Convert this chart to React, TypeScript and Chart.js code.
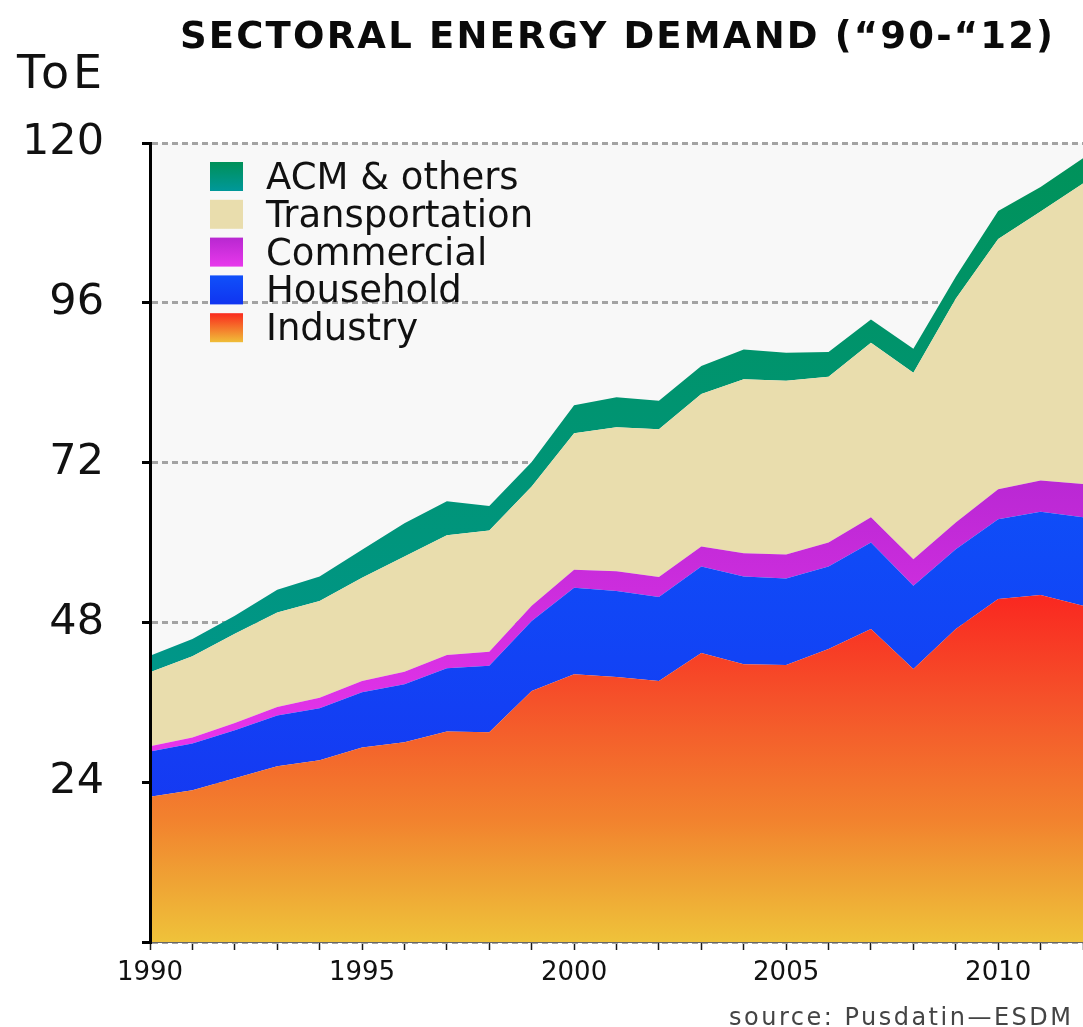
import React, { useEffect, useRef } from 'react';
import { Chart, registerables } from 'chart.js';

Chart.register(...registerables);

const years = ['1990', '1991', '1992', '1993', '1994', '1995', '1996', '1997', '1998', '1999', '2000', '2001', '2002', '2003', '2004', '2005', '2006', '2007', '2008', '2009', '2010', '2011', '2012'];
const industry = [21.8, 22.8, 24.6, 26.4, 27.3, 29.2, 30.0, 31.6, 31.5, 37.7, 40.2, 39.8, 39.2, 43.4, 41.7, 41.6, 44.0, 47.0, 41.0, 47.0, 51.5, 52.1, 50.5];
const household = [6.8, 7.0, 7.2, 7.6, 7.8, 8.3, 8.7, 9.5, 10.0, 10.5, 13.0, 12.9, 12.6, 13.0, 13.2, 13.0, 12.4, 13.0, 12.5, 12.0, 12.0, 12.5, 13.3];
const commercial = [0.8, 0.9, 1.1, 1.3, 1.6, 1.7, 1.9, 2.0, 2.1, 2.3, 2.7, 3.0, 3.0, 3.0, 3.5, 3.6, 3.6, 3.8, 4.0, 4.0, 4.5, 4.7, 5.0];
const transportation = [11.1, 12.2, 13.4, 14.2, 14.5, 15.5, 17.3, 18.0, 18.2, 17.9, 20.5, 21.6, 22.2, 22.9, 26.1, 26.1, 24.9, 26.2, 28.0, 33.6, 37.6, 40.4, 45.1];
const acmOthers = [2.5, 2.6, 2.7, 3.4, 3.7, 4.2, 5.0, 5.1, 3.7, 3.7, 4.2, 4.5, 4.3, 4.2, 4.5, 4.2, 3.7, 3.5, 3.6, 3.3, 4.2, 3.7, 3.8];

const seriesNames = ['Industry', 'Household', 'Commercial', 'Transportation', 'ACM & others'];
const yMax = 120;
const yStep = 24;
const titleText = 'SECTORAL ENERGY DEMAND (\u201C90-\u201C12)';
const unitText = 'ToE';
const sourceText = 'source: Pusdatin\u2014ESDM';

const FONT = '"DejaVu Sans", sans-serif';

type Stop = [number, string];

function valueGradient(chart: any, v0: number, v1: number, stops: Stop[], fallback: string) {
  const { chartArea, scales } = chart;
  if (!chartArea || !scales || !scales.y) return fallback;
  const y0 = scales.y.getPixelForValue(v0);
  const y1 = scales.y.getPixelForValue(v1);
  const g = chart.ctx.createLinearGradient(0, y0, 0, y1);
  stops.forEach(([o, c]) => g.addColorStop(o, c));
  return g;
}

const industryStops: Stop[] = [[0, '#FA2620'], [0.31, '#F5522A'], [0.65, '#F2822E'], [0.82, '#EFA234'], [1, '#EFC23A']];
const householdStops: Stop[] = [[0, '#0F4DF8'], [1, '#1539F2']];
const commercialStops: Stop[] = [[0, '#BA28D4'], [1, '#E634EA']];
const acmStops: Stop[] = [[0, '#00925A'], [1, '#009688']];

const legendBoxStops: Stop[][] = [
  [[0, '#009058'], [1, '#00989A']],
  [[0, '#E9DDAD'], [1, '#E9DDAD']],
  [[0, '#B828D0'], [1, '#E838EC']],
  [[0, '#1050FA'], [1, '#1034F0']],
  [[0, '#FA2A1E'], [1, '#F0BE38']],
];

function drawSpaced(ctx: CanvasRenderingContext2D, text: string, x: number, y: number, targetWidth?: number) {
  (ctx as any).letterSpacing = '0px';
  if (targetWidth) {
    const w = ctx.measureText(text).width;
    const ls = (targetWidth - w) / Math.max(1, text.length - 1);
    (ctx as any).letterSpacing = ls.toFixed(2) + 'px';
  }
  ctx.fillText(text, x, y);
  (ctx as any).letterSpacing = '0px';
}

const decorPlugin = {
  id: 'decor',
  beforeDraw(chart: any) {
    const { ctx, chartArea } = chart;
    ctx.save();
    ctx.fillStyle = '#F8F8F8';
    ctx.fillRect(chartArea.left, chartArea.top, chartArea.right - chartArea.left, chartArea.bottom - chartArea.top);
    ctx.restore();
  },
  afterDraw(chart: any) {
    const { ctx } = chart;
    ctx.save();
    ctx.textAlign = 'left';
    ctx.textBaseline = 'alphabetic';
    // title
    ctx.fillStyle = '#0a0a0a';
    ctx.font = 'bold 37px ' + FONT;
    drawSpaced(ctx, titleText, 180, 48, 873);
    // unit
    ctx.font = '46px ' + FONT;
    ctx.fillStyle = '#111';
    drawSpaced(ctx, unitText, 17, 88, 85);
    // source
    ctx.font = '24px ' + FONT;
    ctx.fillStyle = '#444';
    drawSpaced(ctx, sourceText, 729, 1025, 342);
    // legend (top to bottom: reverse of stacking order)
    const order = [4, 3, 2, 1, 0];
    const top0 = 162;
    const step = 37.8;
    ctx.font = '37px ' + FONT;
    order.forEach((si, row) => {
      const top = top0 + row * step;
      const g = ctx.createLinearGradient(0, top, 0, top + 29);
      legendBoxStops[row].forEach(([o, c]) => g.addColorStop(o, c));
      ctx.fillStyle = g;
      ctx.fillRect(210, top, 33, 29);
      ctx.fillStyle = '#111';
      drawSpaced(ctx, seriesNames[si], 266, top + 27);
    });
    ctx.restore();
  },
};

export default function App() {
  const ref = useRef<HTMLCanvasElement | null>(null);

  useEffect(() => {
    if (!ref.current) return;
    const chart = new Chart(ref.current, {
      type: 'line',
      data: {
        labels: years,
        datasets: [
          {
            label: seriesNames[0],
            data: industry,
            fill: 'origin',
            backgroundColor: (c: any) => valueGradient(c.chart, 52.5, 0, industryStops, '#F2822E'),
          },
          {
            label: seriesNames[1],
            data: household,
            fill: '-1',
            backgroundColor: (c: any) => valueGradient(c.chart, 65, 20, householdStops, '#1244F6'),
          },
          {
            label: seriesNames[2],
            data: commercial,
            fill: '-1',
            backgroundColor: (c: any) => valueGradient(c.chart, 69, 30, commercialStops, '#D030E0'),
          },
          {
            label: seriesNames[3],
            data: transportation,
            fill: '-1',
            backgroundColor: '#E9DDAD',
          },
          {
            label: seriesNames[4],
            data: acmOthers,
            fill: '-1',
            backgroundColor: (c: any) => valueGradient(c.chart, 118, 42, acmStops, '#00936E'),
          },
        ] as any,
      },
      options: {
        animation: false,
        responsive: false,
        devicePixelRatio: 1,
        layout: { padding: { top: 143, left: 0, right: 0, bottom: 0 } },
        elements: {
          line: { borderWidth: 0, tension: 0 },
          point: { radius: 0, hoverRadius: 0 },
        },
        plugins: {
          legend: { display: false },
          tooltip: { enabled: false },
          title: { display: false },
        },
        scales: {
          x: {
            type: 'category',
            offset: false,
            afterFit: (s: any) => { s.height = 85; s.paddingRight = 0; s.paddingLeft = 0; },
            grid: {
              display: true,
              drawOnChartArea: false,
              drawTicks: true,
              tickLength: 8,
              tickColor: '#1a1a1a',
              tickWidth: 1.5,
            },
            border: { display: true, color: '#666', width: 1, z: 1 },
            ticks: {
              autoSkip: false,
              maxRotation: 0,
              minRotation: 0,
              padding: 8,
              color: '#111',
              font: { family: FONT, size: 26 },
              callback: (_v: any, i: number) => (Number(years[i]) % 5 === 0 ? years[i] : ''),
            },
          },
          y: {
            type: 'linear',
            stacked: true,
            min: 0,
            max: yMax,
            afterFit: (s: any) => { s.width = 150; },
            grid: {
              display: true,
              drawOnChartArea: true,
              drawTicks: true,
              tickLength: 8,
              color: '#a3a3a3',
              lineWidth: 3,
              tickColor: '#000',
              tickWidth: 3,
              tickBorderDash: [],
            },
            border: { display: true, color: '#000', width: 3, dash: [6, 4], z: 1 },
            ticks: {
              stepSize: yStep,
              padding: 38,
              color: '#111',
              font: { family: FONT, size: 43 },
              callback: (v: any) => (Number(v) === 0 ? '' : String(v)),
            },
          },
        },
      } as any,
      plugins: [decorPlugin],
    });
    return () => chart.destroy();
  }, []);

  return (
    <div style={{ position: 'absolute', left: 0, top: 0, width: 1083, height: 1027, background: '#fff' }}>
      <canvas ref={ref} width={1083} height={1027} />
    </div>
  );
}
